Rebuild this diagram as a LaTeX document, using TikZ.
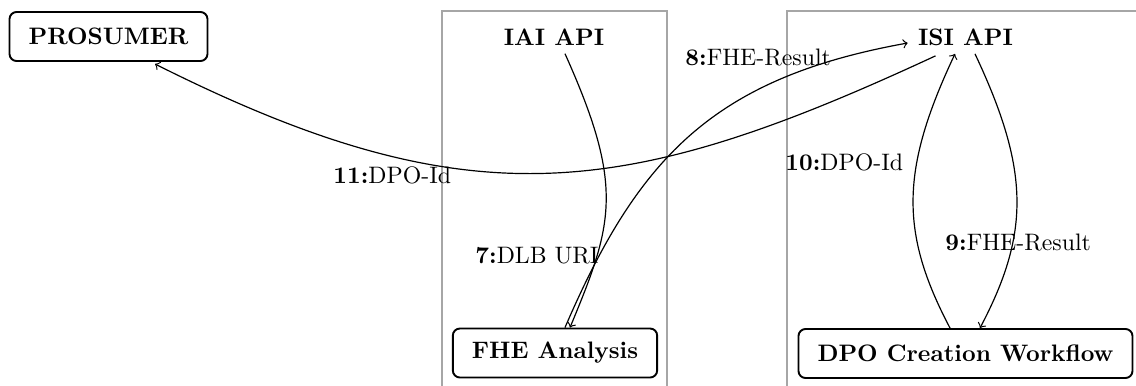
\documentclass[tikz,border=0pt]{standalone}
\usetikzlibrary{calc}
\begin{document}
\begin{tikzpicture}[x=0.42pt,y=-0.42pt,
  agent/.style={draw,thick,rounded corners=3pt,inner xsep=8pt,minimum height=20.6pt,font=\bfseries},
  api/.style={font=\bfseries},
  zone/.style={draw=black!35,line width=0.6pt},
  msg/.style={->,line width=0.5pt},
  lbl/.style={inner sep=0pt,anchor=base west}]
\clip (0,0) rectangle (1136,385);
% swim-lane frames
\draw[zone] (442,11) rectangle (667,420);
\draw[zone] (787,11) rectangle (1200,420);
% participants
\node[agent] (pros) at (108.5,36.5) {PROSUMER};
\node[api] (iai) at (554,37) {IAI API};
\node[api] (isi) at (965.5,37) {ISI API};
\node[agent] (fhe) at (555,353) {FHE Analysis};
\node[agent] (dpo) at (965.5,353.5) {DPO Creation Workflow};
% messages
\draw[msg] ($(iai.south)+(11,0)$) .. controls (625,187) and (613,224) .. ($(fhe.north)+(15,0)$);
\draw[msg] ($(fhe.north)+(10,0)$) .. controls (638,158) and (713,78) .. ($(isi.west)+(-2,6)$);
\draw[msg] ($(isi.south)+(9.5,0)$) .. controls (1030,170.5) and (1030,233) .. ($(dpo.north)+(14.5,0)$);
\draw[msg] ($(dpo.north)+(-15.5,0)$) .. controls (900,233) and (900,170.5) .. ($(isi.south)+(-10.5,0)$);
\draw[msg] ($(isi.south)+(-30,2)$) .. controls (625,200) and (470,222) .. ($(pros.south)+(46.5,2)$);
% message labels
\node[lbl] (l7) at (475,263) {\textbf{7:}DLB URI};
\node[lbl] (l8) at (685,65) {\textbf{8:}FHE-Result};
\node[lbl] (l9) at (945,250) {\textbf{9:}FHE-Result};
\node[lbl] (l10) at (785,170) {\textbf{10:}DPO-Id};
\node[lbl] (l11) at (333,183) {\textbf{11:}DPO-Id};
\end{tikzpicture}
\end{document}
